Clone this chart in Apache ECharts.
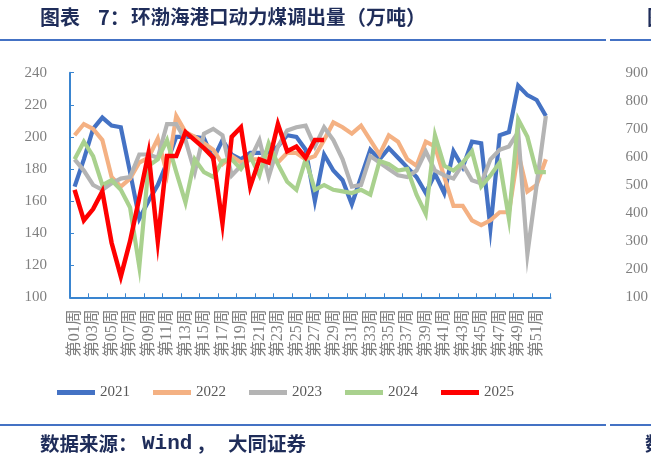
<!DOCTYPE html>
<html>
<head>
<meta charset="utf-8">
<script src="https://cdn.jsdelivr.net/npm/echarts@6/dist/echarts.min.js"></script>
<style>
html,body{margin:0;padding:0;background:#fff;}
#c{width:651px;height:467px;}
</style>
</head>
<body>
<div id="c"></div>
<script>
const weeks = [];
for (let i = 1; i <= 52; i++) weeks.push('第' + (i < 10 ? '0' + i : '' + i) + '周');

const s2021 = [169,186,205,212,207,206,178,149,160,170,184,200,200,200,199,186,198,189,186,190,190,190,194,201,200,192,160,189,179,173,158,175,192,186,193,187,181,175,165,177,165,191,181,197,196,143,201,203,232,226,223,213];
const s2022 = [201,208,205,198,175,169,174,184,187,199,177,213,203,200,196,192,183,188,184,186,186,188,184,190,190,186,188,198,209,206,202,207,198,189,201,197,186,182,197,194,175,157,157,148,145,148,153,153,190,166,170,186];
const s2023 = [186,179,170,167,171,174,175,189,189,187,208,208,198,178,202,205,201,176,182,186,198,175,194,204,206,207,194,206,198,186,169,170,188,184,180,176,175,179,191,179,176,174,183,173,171,186,192,194,203,127,170,213];
const s2024 = [186,197,188,170,173,167,156,119,182,186,198,178,159,186,178,175,185,186,180,188,176,196,183,172,167,186,167,170,167,166,165,167,164,185,183,179,180,164,152,201,182,179,184,191,169,176,184,149,211,200,178,178];
const s2025 = [167,148,155,166,134,113,135,162,190,135,188,188,203,198,193,187,146,200,206,169,186,184,208,191,194,187,198,198];

const seriesNames = ['2021','2022','2023','2024','2025'];
const seriesData = [s2021, s2022, s2023, s2024, s2025];
const colors = ['#4472C4','#F4B183','#B4B4B4','#A9D18E','#FF0000'];

const axisColor = '#3A85D0';
const labelColor = '#7F7F7F';
const numFont = '"Liberation Serif", "Noto Sans CJK SC", serif';
const navy = '#1F2D5A';

const chart = echarts.init(document.getElementById('c'), null, {renderer: 'canvas'});

chart.setOption({
  animation: false,
  backgroundColor: '#fff',
  color: colors,
  grid: {left: 70, right: 99, top: 72.7, bottom: 169.7, containLabel: false},
  legend: {
    data: seriesNames,
    left: 57,
    top: 385,
    padding: 0,
    itemWidth: 38,
    itemHeight: 5,
    itemGap: 23,
    icon: 'rect',
    textStyle: {color: '#595959', fontSize: 15, fontFamily: numFont}
  },
  xAxis: {
    type: 'category',
    data: weeks,
    boundaryGap: true,
    axisLine: {lineStyle: {color: axisColor, width: 2}},
    axisTick: {show: true, inside: true, length: 4, lineStyle: {color: axisColor, width: 1}},
    axisLabel: {
      interval: 1,
      rotate: 90,
      margin: 12,
      color: labelColor,
      fontSize: 16,
      fontFamily: numFont
    },
    splitLine: {show: false}
  },
  yAxis: [{
    type: 'value',
    min: 100,
    max: 240,
    interval: 20,
    axisLine: {show: true, lineStyle: {color: axisColor, width: 2}},
    axisTick: {show: true, inside: true, length: 4, lineStyle: {color: axisColor}},
    axisLabel: {color: labelColor, fontSize: 15, fontFamily: numFont, margin: 23},
    splitLine: {show: false}
  }, {
    type: 'value',
    position: 'right',
    offset: 67,
    min: 100,
    max: 900,
    interval: 100,
    axisLine: {show: false},
    axisTick: {show: false},
    axisLabel: {color: labelColor, fontSize: 15, fontFamily: numFont, margin: 8, align: 'left'},
    splitLine: {show: false}
  }],
  series: seriesNames.map((n, i) => ({
    name: n,
    type: 'line',
    data: seriesData[i],
    yAxisIndex: 0,
    showSymbol: false,
    symbol: 'none',
    lineStyle: {width: i === 4 ? 4.5 : 4.2, color: colors[i], join: 'miter'},
    itemStyle: {color: colors[i]},
    z: 2 + i
  })),
  graphic: [
    {type: 'text', left: 40, top: 7, style: {text: '图表', fill: navy, font: 'bold 20px "Noto Sans CJK SC", sans-serif'}},
    {type: 'text', left: 98, top: 7, style: {text: '7：', fill: navy, font: 'bold 20px "Noto Sans CJK SC", sans-serif'}},
    {type: 'text', left: 131, top: 7, style: {text: '环渤海港口动力煤调出量', fill: navy, font: 'bold 19.5px "Noto Sans CJK SC", sans-serif'}},
    {type: 'text', left: 346, top: 7, style: {text: '（万吨）', fill: navy, font: 'bold 20px "Noto Sans CJK SC", sans-serif'}},
    {type: 'text', left: 647, top: 7, style: {text: '图', fill: navy, font: 'bold 20px "Noto Sans CJK SC", sans-serif'}},
    {type: 'line', shape: {x1: 0, y1: 40, x2: 606, y2: 40}, style: {stroke: '#4472C4', lineWidth: 2}},
    {type: 'line', shape: {x1: 610, y1: 40, x2: 651, y2: 40}, style: {stroke: '#4472C4', lineWidth: 2}},
    {type: 'line', shape: {x1: 0, y1: 425, x2: 606, y2: 425}, style: {stroke: '#4472C4', lineWidth: 2}},
    {type: 'line', shape: {x1: 610, y1: 425, x2: 651, y2: 425}, style: {stroke: '#4472C4', lineWidth: 2}},
    {type: 'text', left: 40, top: 434, style: {text: '数据来源：', fill: navy, font: 'bold 19.5px "Noto Sans CJK SC", sans-serif'}},
    {type: 'text', left: 142, top: 433, style: {text: 'Wind', fill: navy, font: 'bold 21px "Liberation Mono", monospace'}},
    {type: 'text', left: 196, top: 434, style: {text: '，', fill: navy, font: 'bold 19.5px "Noto Sans CJK SC", sans-serif'}},
    {type: 'text', left: 228, top: 434, style: {text: '大同证券', fill: navy, font: 'bold 19.5px "Noto Sans CJK SC", sans-serif'}},
    {type: 'text', left: 645, top: 434, style: {text: '数', fill: navy, font: 'bold 19.5px "Noto Sans CJK SC", sans-serif'}}
  ]
});
</script>
</body>
</html>
